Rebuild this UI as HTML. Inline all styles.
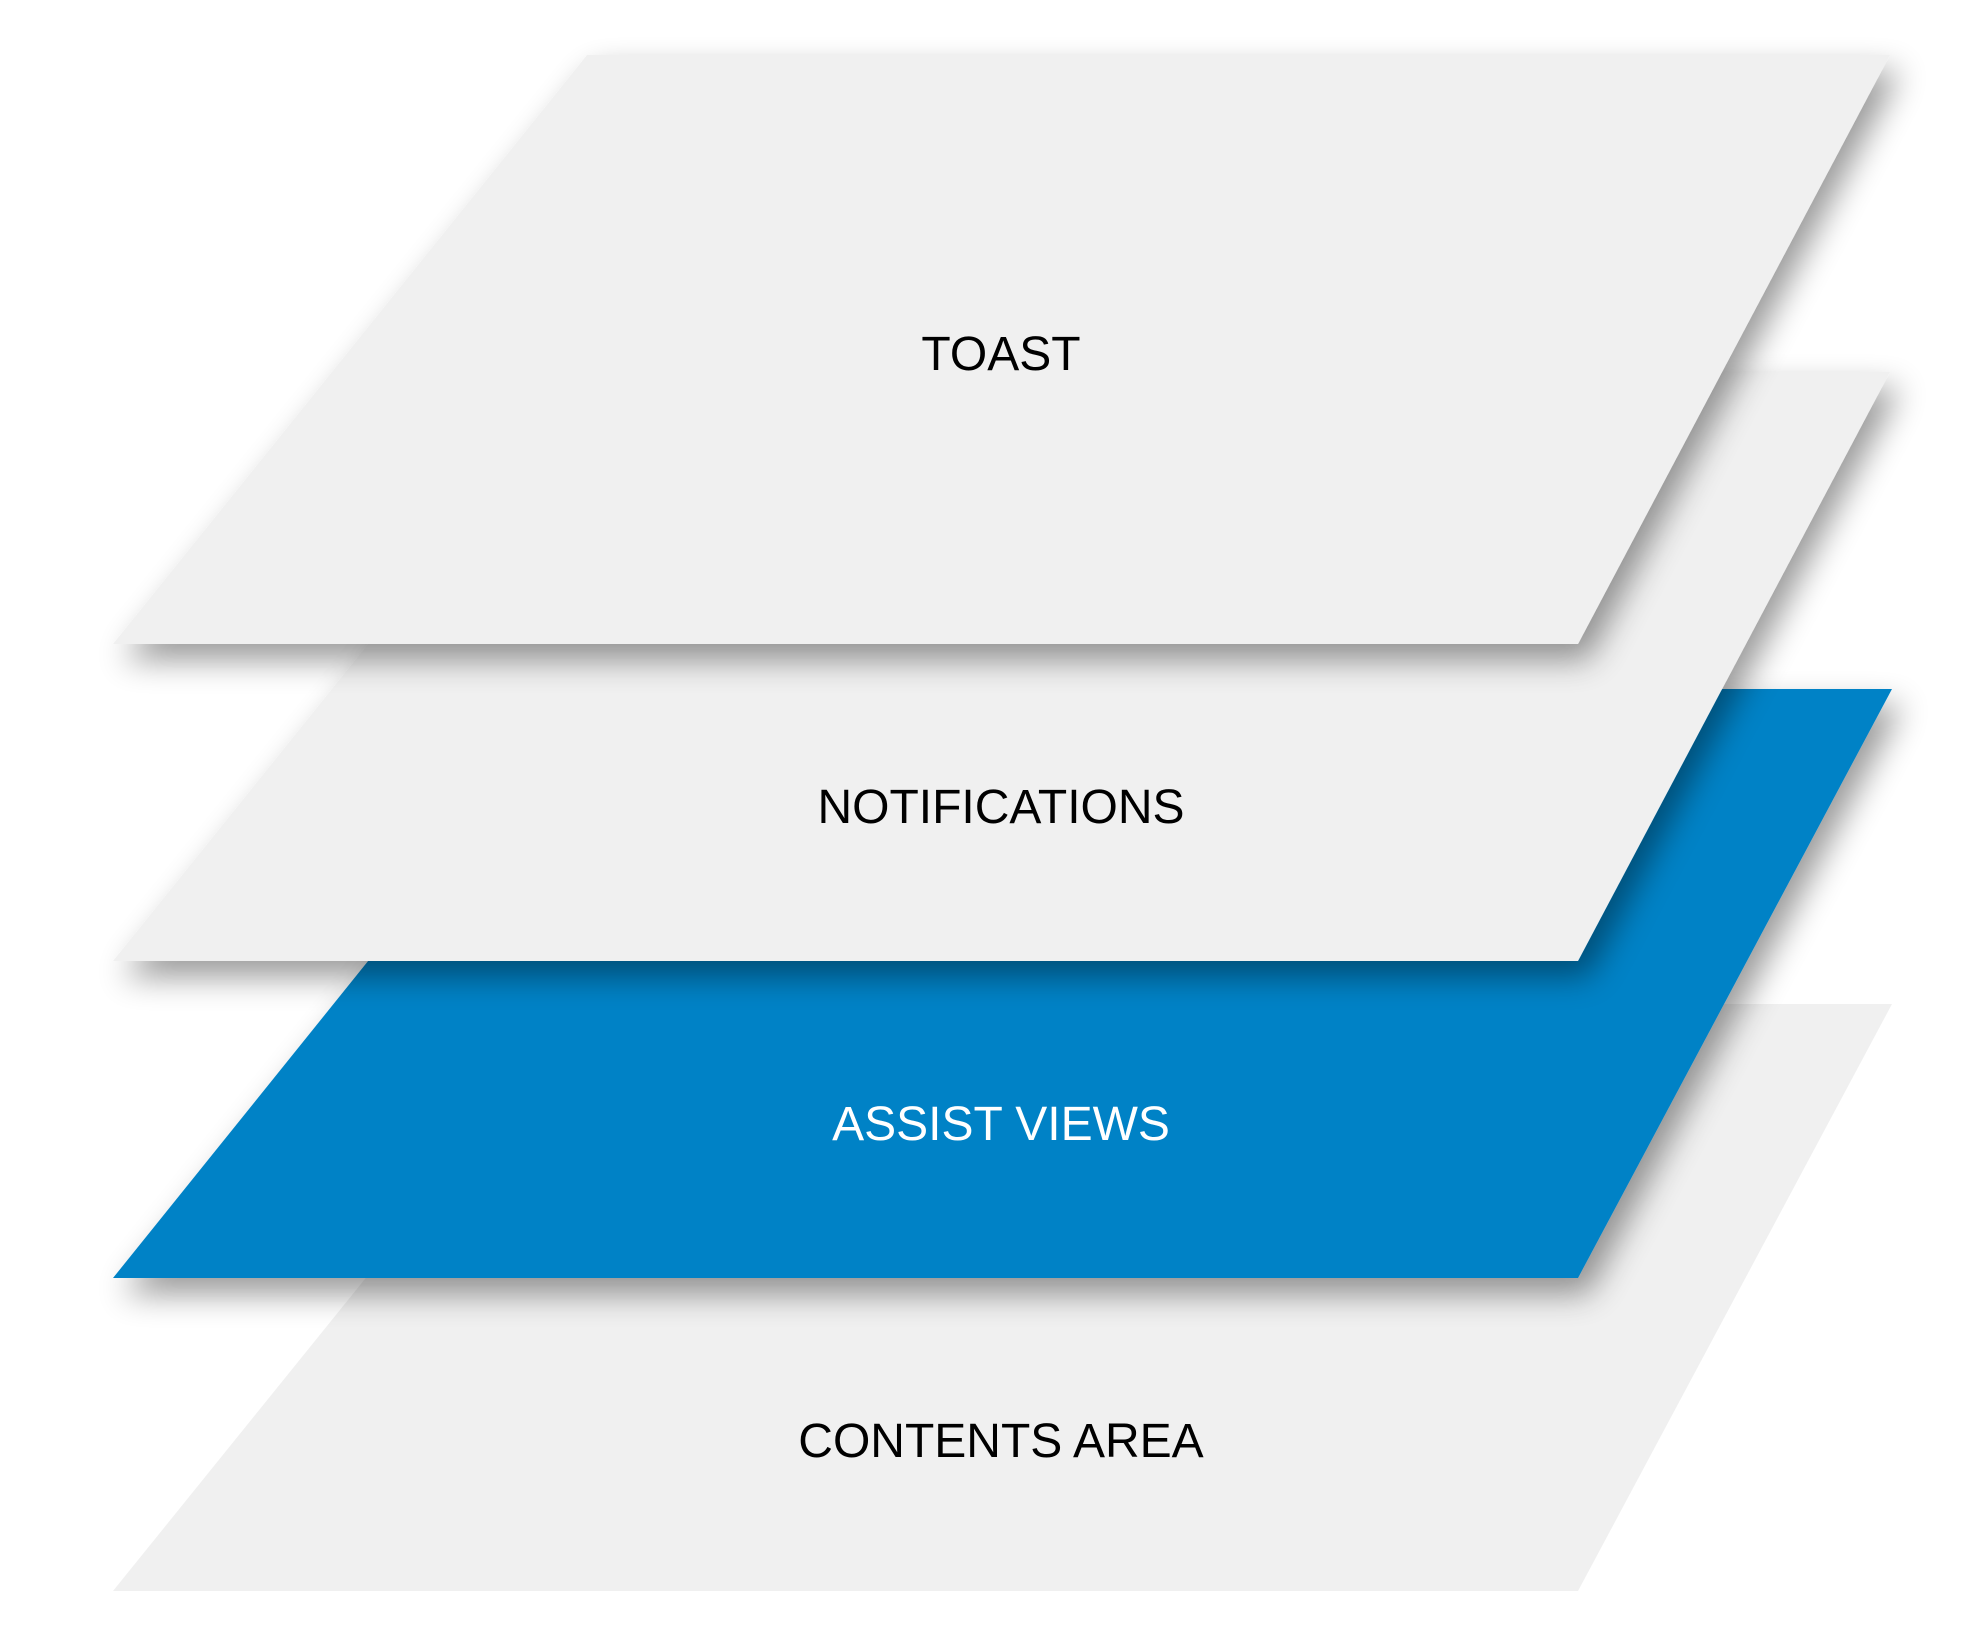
<!DOCTYPE html>
<html><head><style>html,body{margin:0;padding:0;background:#fff;width:1981px;height:1648px;overflow:hidden}</style></head>
<body>
<svg width="1981" height="1648" viewBox="0 0 1981 1648" xmlns="http://www.w3.org/2000/svg">
<defs>
<filter id="sh" x="-10%" y="-10%" width="125%" height="130%">
<feGaussianBlur in="SourceAlpha" stdDeviation="16"/>
<feOffset dx="10" dy="16" result="b"/>
<feComponentTransfer><feFuncA type="linear" slope="0.4"/></feComponentTransfer>
<feMerge><feMergeNode/><feMergeNode in="SourceGraphic"/></feMerge>
</filter>
</defs>
<g font-family="Liberation Sans, sans-serif" font-size="48" text-anchor="middle">
<polygon points="587,1004 1892,1004 1578,1591 113,1591" fill="#f0f0f0"/>
<text x="1001" y="1457" fill="#000">CONTENTS AREA</text>
<polygon points="587,689 1892,689 1578,1278 113,1278" fill="#0082c6" filter="url(#sh)"/>
<text x="1001" y="1140" fill="#fff">ASSIST VIEWS</text>
<polygon points="587,372 1890,372 1578,961 113,961" fill="#f0f0f0" filter="url(#sh)"/>
<text x="1001" y="823" fill="#000">NOTIFICATIONS</text>
<polygon points="587,55 1890,55 1578,644 113,644" fill="#f0f0f0" filter="url(#sh)"/>
<text x="1001" y="370" fill="#000">TOAST</text>
</g>
</svg>
</body></html>
